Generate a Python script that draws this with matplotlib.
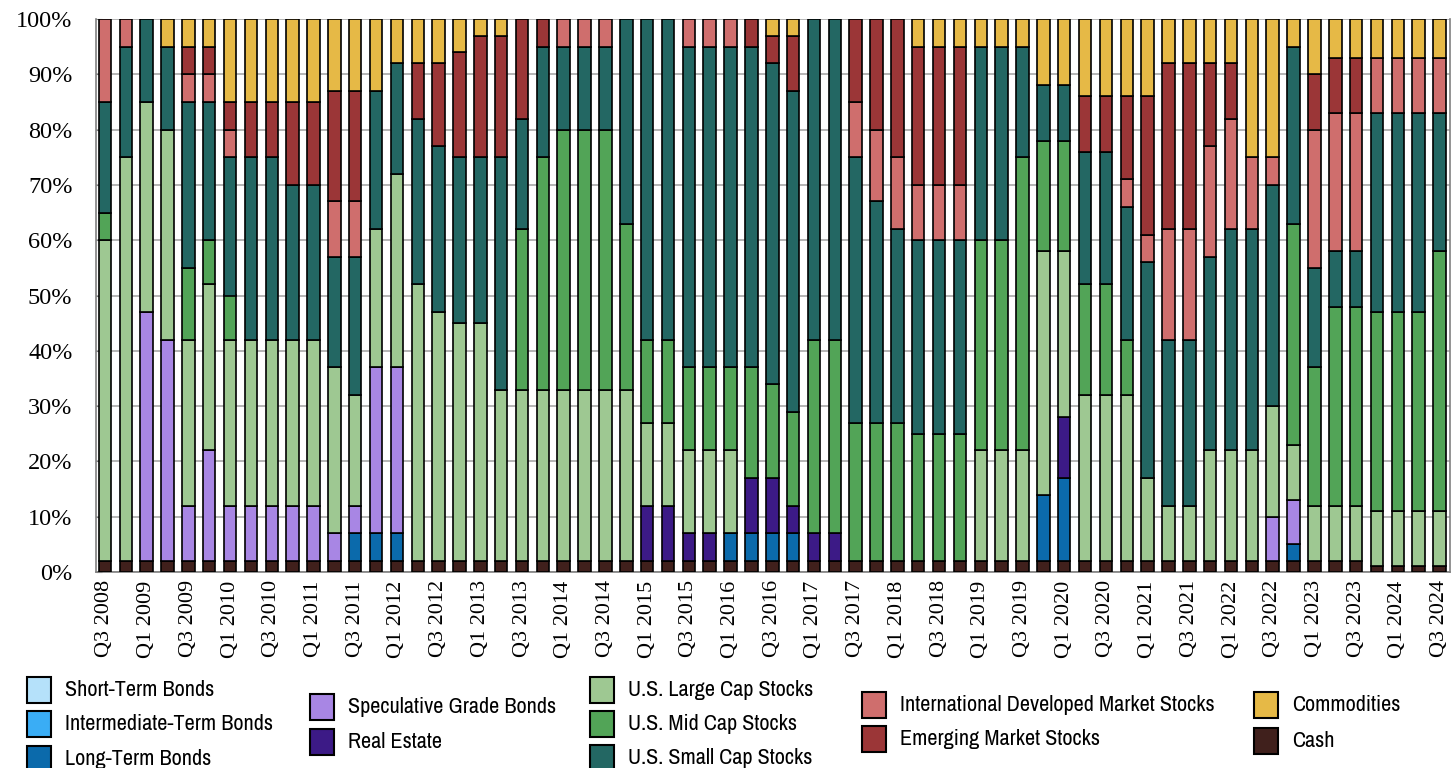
import matplotlib
matplotlib.use("Agg")
import matplotlib.pyplot as plt
from matplotlib import font_manager
from matplotlib.patches import Rectangle
import numpy as np

# quarters Q3 2008 .. Q3 2024
quarters = []
for year in range(2008, 2025):
    for q in (1, 2, 3, 4):
        if (year == 2008 and q < 3) or (year == 2024 and q > 3):
            continue
        quarters.append(f"Q{q} {year}")

short_term = [0] * len(quarters)
intermediate = [0] * len(quarters)
long_term = [0, 0, 0, 0, 0, 0, 0, 0, 0, 0,
             0, 0, 5, 5, 5, 0, 0, 0, 0, 0,
             0, 0, 0, 0, 0, 0, 0, 0, 0, 0,
             5, 5, 5, 5, 0, 0, 0, 0, 0, 0,
             0, 0, 0, 0, 0, 12, 15, 0, 0, 0,
             0, 0, 0, 0, 0, 0, 0, 3, 0, 0,
             0, 0, 0, 0, 0]
speculative = [0, 0, 45, 40, 10, 20, 10, 10, 10, 10,
               10, 5, 5, 30, 30, 0, 0, 0, 0, 0,
               0, 0, 0, 0, 0, 0, 0, 0, 0, 0,
               0, 0, 0, 0, 0, 0, 0, 0, 0, 0,
               0, 0, 0, 0, 0, 0, 0, 0, 0, 0,
               0, 0, 0, 0, 0, 0, 8, 8, 0, 0,
               0, 0, 0, 0, 0]
real_estate = [0, 0, 0, 0, 0, 0, 0, 0, 0, 0,
               0, 0, 0, 0, 0, 0, 0, 0, 0, 0,
               0, 0, 0, 0, 0, 0, 10, 10, 5, 5,
               0, 10, 10, 5, 5, 5, 0, 0, 0, 0,
               0, 0, 0, 0, 0, 0, 11, 0, 0, 0,
               0, 0, 0, 0, 0, 0, 0, 0, 0, 0,
               0, 0, 0, 0, 0]
large_cap = [58, 73, 38, 38, 30, 30, 30, 30, 30, 30,
             30, 30, 20, 25, 35, 50, 45, 43, 43, 31,
             31, 31, 31, 31, 31, 31, 15, 15, 15, 15,
             15, 0, 0, 0, 0, 0, 0, 0, 0, 0,
             0, 0, 20, 20, 20, 44, 30, 30, 30, 30,
             15, 10, 10, 20, 20, 20, 20, 10, 10, 10,
             10, 10, 10, 10, 10]
mid_cap = [5, 0, 0, 0, 13, 8, 8, 0, 0, 0,
           0, 0, 0, 0, 0, 0, 0, 0, 0, 0,
           29, 42, 47, 47, 47, 30, 15, 15, 15, 15,
           15, 20, 17, 17, 35, 35, 25, 25, 25, 23,
           23, 23, 38, 38, 53, 20, 20, 20, 20, 10,
           0, 0, 0, 0, 0, 0, 0, 40, 25, 36,
           36, 36, 36, 36, 47]
small_cap = [20, 20, 15, 15, 30, 25, 25, 33, 33, 28,
             28, 20, 25, 25, 20, 30, 30, 30, 30, 42,
             20, 20, 15, 15, 15, 37, 58, 58, 58, 58,
             58, 58, 58, 58, 58, 58, 48, 40, 35, 35,
             35, 35, 35, 35, 20, 10, 10, 24, 24, 24,
             39, 30, 30, 35, 40, 40, 40, 32, 18, 10,
             10, 36, 36, 36, 25]
intl_dev = [15, 5, 0, 0, 5, 5, 5, 0, 0, 0,
            0, 10, 10, 0, 0, 0, 0, 0, 0, 0,
            0, 0, 5, 5, 5, 0, 0, 0, 5, 5,
            5, 0, 0, 0, 0, 0, 10, 13, 13, 10,
            10, 10, 0, 0, 0, 0, 0, 0, 0, 5,
            5, 20, 20, 20, 20, 13, 5, 0, 25, 25,
            25, 10, 10, 10, 10]
emerging = [0, 0, 0, 0, 5, 5, 5, 10, 10, 15,
            15, 20, 20, 0, 0, 10, 15, 19, 22, 22,
            18, 5, 0, 0, 0, 0, 0, 0, 0, 0,
            0, 5, 5, 10, 0, 0, 15, 20, 25, 25,
            25, 25, 0, 0, 0, 0, 0, 10, 10, 15,
            25, 30, 30, 15, 10, 0, 0, 0, 10, 10,
            10, 0, 0, 0, 0]
commodities = [0, 0, 0, 5, 5, 5, 15, 15, 15, 15,
               15, 13, 13, 13, 8, 8, 8, 6, 3, 3,
               0, 0, 0, 0, 0, 0, 0, 0, 0, 0,
               0, 0, 3, 3, 0, 0, 0, 0, 0, 5,
               5, 5, 5, 5, 5, 12, 12, 14, 14, 14,
               14, 8, 8, 8, 8, 25, 25, 5, 10, 7,
               7, 7, 7, 7, 7]
cash = [2, 2, 2, 2, 2, 2, 2, 2, 2, 2,
        2, 2, 2, 2, 2, 2, 2, 2, 2, 2,
        2, 2, 2, 2, 2, 2, 2, 2, 2, 2,
        2, 2, 2, 2, 2, 2, 2, 2, 2, 2,
        2, 2, 2, 2, 2, 2, 2, 2, 2, 2,
        2, 2, 2, 2, 2, 2, 2, 2, 2, 2,
        2, 1, 1, 1, 1]

# stacking order bottom -> top
series = [
    ("Cash", cash, "#40201c"),
    ("Short-Term Bonds", short_term, "#b5e1fa"),
    ("Intermediate-Term Bonds", intermediate, "#3aadf5"),
    ("Long-Term Bonds", long_term, "#0b6aab"),
    ("Speculative Grade Bonds", speculative, "#a886e4"),
    ("Real Estate", real_estate, "#3c1a86"),
    ("U.S. Large Cap Stocks", large_cap, "#9ec892"),
    ("U.S. Mid Cap Stocks", mid_cap, "#52a457"),
    ("U.S. Small Cap Stocks", small_cap, "#236763"),
    ("International Developed Market Stocks", intl_dev, "#cf6e6d"),
    ("Emerging Market Stocks", emerging, "#9b3637"),
    ("Commodities", commodities, "#e6b946"),
]
colors = {name: c for name, _, c in series}


def pick_font(preferred, must_have, must_not=()):
    """find a font file by name, falling back to anything that fits"""
    fonts = font_manager.fontManager.ttflist
    for want in preferred:
        for f in fonts:
            if f.name == want and f.style == "normal" and f.weight in (400, "normal", "regular"):
                return f.fname
    for f in fonts:
        if must_have in f.name and not any(m in f.name for m in must_not) \
                and f.style == "normal" and f.weight in (400, "normal", "regular"):
            return f.fname
    return None


serif_path = pick_font(["Liberation Serif", "Times New Roman", "Nimbus Roman",
                        "DejaVu Serif"], "Serif", ("Sans", "Mono"))
narrow_path = pick_font(["Liberation Sans Narrow", "Arial Narrow"], "Narrow")
if narrow_path:
    legend_fp = font_manager.FontProperties(fname=narrow_path, size=16)
else:
    legend_fp = font_manager.FontProperties(family="Liberation Sans", size=13.2)
if serif_path:
    xtick_fp = font_manager.FontProperties(fname=serif_path, size=16)
    ytick_fp = font_manager.FontProperties(fname=serif_path, size=17.5)
else:
    xtick_fp = font_manager.FontProperties(family="serif", size=16)
    ytick_fp = font_manager.FontProperties(family="serif", size=17.5)

fig = plt.figure(figsize=(14.56, 7.68), dpi=100)
W, H = 1456, 768
ax = fig.add_axes([96 / W, 1 - 572 / H, (1450 - 96) / W, (572 - 19) / H])

x = np.arange(len(quarters))
bottom = np.zeros(len(quarters))
for name, vals, col in series:
    v = np.array(vals, dtype=float)
    mask = v > 0
    ax.bar(x[mask], v[mask], bottom=bottom[mask], width=0.6, color=col,
           edgecolor="black", linewidth=1.2, zorder=3)
    bottom += v

ax.set_xlim(-0.43, len(quarters) - 0.5)
ax.set_ylim(0, 100)
ax.set_yticks(np.arange(0, 101, 10))
ax.set_yticklabels([f"{v}%" for v in range(0, 101, 10)], fontproperties=ytick_fp)
ax.grid(axis="y", color="#a8a8a8", linewidth=1.2, zorder=0)
ax.set_xticks(x[::2])
ax.set_xticklabels(quarters[::2], rotation=90, fontproperties=xtick_fp)
ax.tick_params(axis="x", length=0, pad=6)
ax.tick_params(axis="y", direction="in", length=4, pad=17, color="#808080")
for side in ("left", "bottom", "right"):
    ax.spines[side].set_color("#808080")
    ax.spines[side].set_linewidth(1.2)
ax.spines["top"].set_visible(False)

# legend, five columns laid out like the original
legend_cols = [
    (27, ["Short-Term Bonds", "Intermediate-Term Bonds", "Long-Term Bonds"], [690, 724, 759]),
    (310, ["Speculative Grade Bonds", "Real Estate"], [707, 742]),
    (590, ["U.S. Large Cap Stocks", "U.S. Mid Cap Stocks", "U.S. Small Cap Stocks"], [690, 724, 758]),
    (862, ["International Developed Market Stocks", "Emerging Market Stocks"], [705, 739]),
    (1254, ["Commodities", "Cash"], [705, 741]),
]
pw, ph = 24, 26
for px, labels, ys in legend_cols:
    for lab, yc in zip(labels, ys):
        fig.add_artist(Rectangle((px / W, 1 - (yc + ph / 2) / H), pw / W, ph / H,
                                 facecolor=colors[lab], edgecolor="black",
                                 linewidth=1.5, transform=fig.transFigure))
        fig.text((px + 38) / W, 1 - yc / H, lab, ha="left", va="center",
                 fontproperties=legend_fp)

fig.savefig("out.png", dpi=100)
